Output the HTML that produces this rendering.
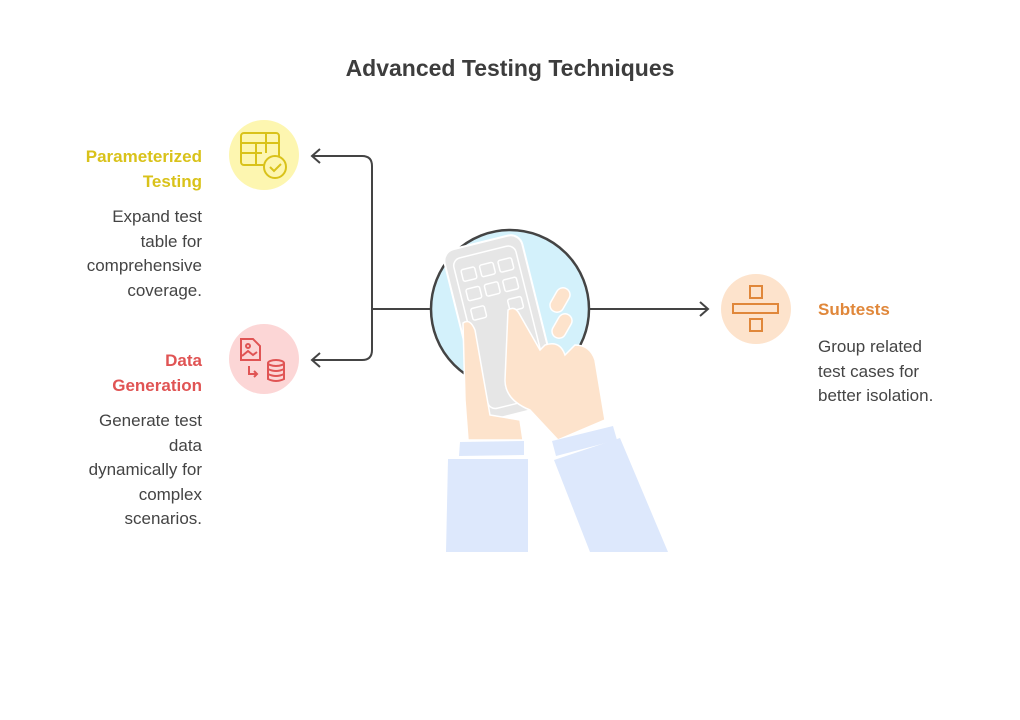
<!DOCTYPE html>
<html><head><meta charset="utf-8"><style>
html,body{margin:0;padding:0;background:#fff;}
body{width:1020px;height:720px;position:relative;overflow:hidden;font-family:"Liberation Sans",sans-serif;}
.t{position:absolute;font-size:17px;line-height:24.5px;color:#444;}
.r{text-align:right;}
.b{font-weight:bold;}
</style></head><body>
<svg width="1020" height="720" style="position:absolute;left:0;top:0">
<text x="510" y="76" text-anchor="middle" font-family="Liberation Sans" font-weight="bold" font-size="23" fill="#3d3d3d">Advanced Testing Techniques</text>
<g fill="none" stroke="#444" stroke-width="2">
<path d="M432 309 H372 V166 Q372 156 362 156 H312"/>
<path d="M372 300 V350 Q372 360 362 360 H312"/>
<path d="M320 149 L312 156 L320 163"/>
<path d="M320 353 L312 360 L320 367"/>
<path d="M588 309 H708"/>
<path d="M700 302 L708 309 L700 316"/>
</g>
<circle cx="510" cy="309" r="79" fill="#d3f1fb" stroke="#444" stroke-width="2.5"/>
<!-- phone -->
<g transform="rotate(-14 500 320)">
<rect x="460" y="240" width="80" height="175" rx="12" fill="#e6e6e6" stroke="#fff" stroke-width="2"/>
<rect x="468" y="250" width="64" height="155" rx="8" fill="none" stroke="#fff" stroke-width="1.5"/>
<g fill="#e6e6e6" stroke="#fff" stroke-width="1.5">
<rect x="474" y="262" width="14" height="12" rx="2"/><rect x="493" y="262" width="14" height="12" rx="2"/><rect x="512" y="262" width="14" height="12" rx="2"/>
<rect x="474" y="282" width="14" height="12" rx="2"/><rect x="493" y="282" width="14" height="12" rx="2"/><rect x="512" y="282" width="14" height="12" rx="2"/>
<rect x="474" y="302" width="14" height="12" rx="2"/><rect x="512" y="302" width="14" height="12" rx="2"/>
</g></g>
<!-- left hand -->
<path d="M463 323 Q470 318 475 330 L490 415 L520 420 L523 440 L468 440 L465 400 Z" fill="#fde3cc" stroke="#fff" stroke-width="1.5"/>
<!-- right hand -->
<path d="M508 310 Q515 305 520 315 L540 350 L545 345 Q560 340 565 355 L575 345 Q590 345 595 360 L605 420 L558 440 L530 410 Q505 400 505 380 Z" fill="#fde3cc" stroke="#fff" stroke-width="1.5"/>
<rect x="553" y="287" width="14" height="26" rx="7" transform="rotate(30 560 300)" fill="#fde3cc" stroke="#fff" stroke-width="1.5"/>
<rect x="555" y="313" width="14" height="26" rx="7" transform="rotate(30 562 326)" fill="#fde3cc" stroke="#fff" stroke-width="1.5"/>
<!-- sleeves -->
<polygon points="460,442 524,441 524,455 459,456" fill="#dde8fc"/>
<polygon points="448,459 528,459 528,552 446,552" fill="#dde8fc"/>
<polygon points="552,441 613,426 617,440 556,456" fill="#dde8fc"/>
<polygon points="554,460 620,438 668,552 590,552" fill="#dde8fc"/>
<!-- icons -->
<circle cx="264" cy="155" r="35" fill="#fdf6b0"/>
<g fill="none" stroke="#d9c21a" stroke-width="2">
<rect x="241" y="133" width="38" height="32" rx="3"/><path d="M241 143 H279 M241 153 H262 M256 143 V165 M266 133 V153"/>
<circle cx="275" cy="167" r="11" fill="#fdf6b0"/><path d="M270 167 l4 4 l7 -7"/>
</g>
<circle cx="264" cy="359" r="35" fill="#fcd6d6"/>
<g fill="none" stroke="#e05454" stroke-width="2">
<path d="M241 339 h12 l7 7 v14 h-19 z"/><circle cx="248" cy="346" r="2"/><path d="M242 356 l6 -5 l5 4 l4 -3"/>
<path d="M249 366 v8 h8 M254 371 l3 3 l-3 3"/>
<ellipse cx="276" cy="363" rx="8" ry="3"/><path d="M268 363 v16 q8 4 16 0 v-16 M268 369 q8 4 16 0 M268 374 q8 4 16 0"/>
</g>
<circle cx="756" cy="309" r="35" fill="#fde3cc"/>
<g fill="none" stroke="#e0873a" stroke-width="2">
<rect x="750" y="286" width="12" height="12"/><rect x="733" y="304" width="45" height="9"/><rect x="750" y="319" width="12" height="12"/>
</g>
</svg>
<div class="t r b" style="right:818px;top:145px;color:#d9c21a;">Parameterized<br>Testing</div>
<div class="t r" style="right:818px;top:205px;">Expand test<br>table for<br>comprehensive<br>coverage.</div>
<div class="t r b" style="right:818px;top:349px;color:#e05454;">Data<br>Generation</div>
<div class="t r" style="right:818px;top:409px;">Generate test<br>data<br>dynamically for<br>complex<br>scenarios.</div>
<div class="t b" style="left:818px;top:298px;color:#e0873a;">Subtests</div>
<div class="t" style="left:818px;top:335px;">Group related<br>test cases for<br>better isolation.</div>
</body></html>
